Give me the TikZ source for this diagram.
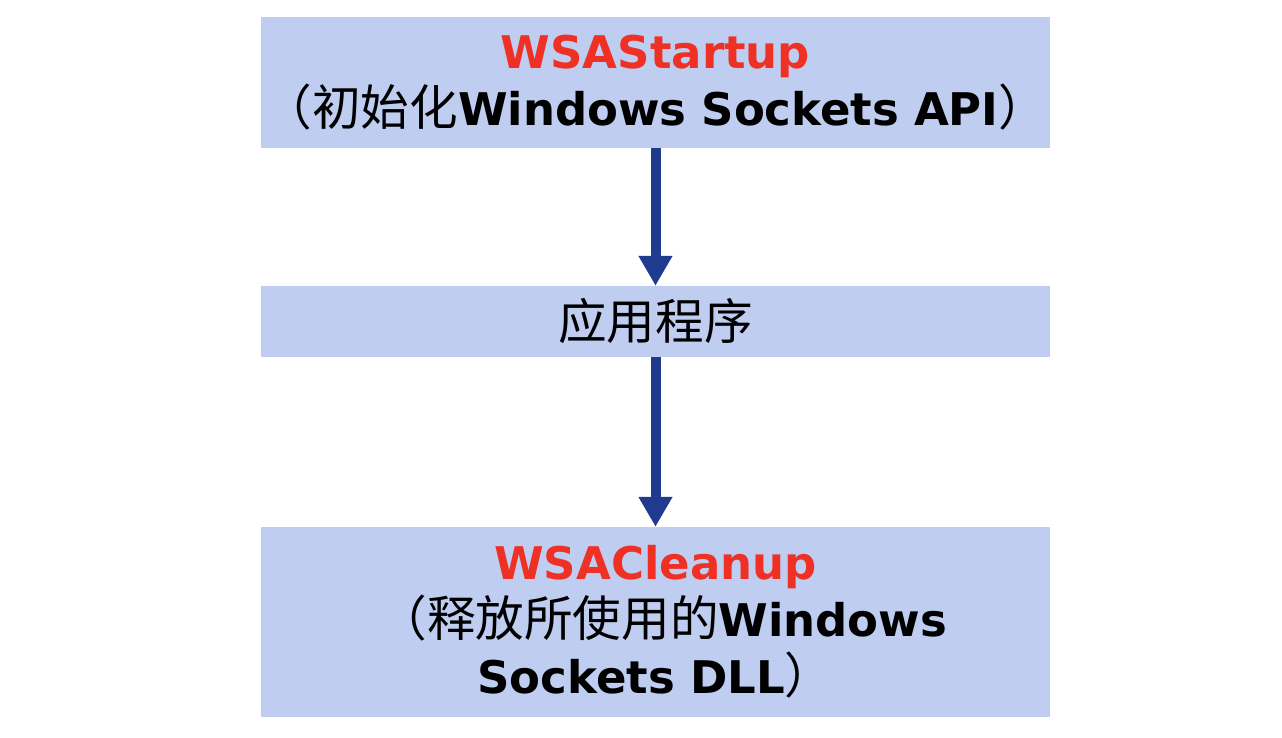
\documentclass[tikz,border=0pt]{standalone}
\usepackage{fontspec}
\setmainfont{DejaVu Sans}
\newfontfamily\cjk[Scale=1.08]{Noto Sans CJK SC}
\usetikzlibrary{arrows.meta}
\definecolor{boxblue}{HTML}{BFCDF1}
\definecolor{arrowblue}{HTML}{1F3A8F}
\definecolor{titlered}{HTML}{EE3124}
\tikzset{
  stagebox/.style={fill=boxblue, draw=none, text width=789pt, align=center,
    inner sep=0pt, font=\fontsize{45}{57}\selectfont\bfseries},
  flowarrow/.style={draw=arrowblue, line width=10pt,
    -{Triangle[length=30pt, width=32pt]}}
}
\begin{document}
\begin{tikzpicture}[x=1pt,y=-1pt]
			%%%%% START %%%%%
			
			\useasboundingbox (0, 0) rectangle (1282, 738);
			
			\node[stagebox, minimum height=131pt] (startup) at (655.5, 82.5)
				{\textcolor{titlered}{WSAStartup}\\{\cjk\mdseries （初始化}Windows Sockets API{\cjk\mdseries ）}};
			
			\node[stagebox, minimum height=71pt] (app) at (655.5, 321.5)
				{\cjk\mdseries 应用程序};
			
			\node[stagebox, minimum height=190pt] (cleanup) at (655.5, 622)
				{\textcolor{titlered}{WSACleanup}\\{\cjk\mdseries \hspace{0.3em}（释放所使用的}Windows\\Sockets DLL{\cjk\mdseries ）}};
			
			\draw[flowarrow] (startup.south) -- (app.north);
			\draw[flowarrow] (app.south) -- (cleanup.north);
			
			%%%%% END %%%%%
\end{tikzpicture}
\end{document}
